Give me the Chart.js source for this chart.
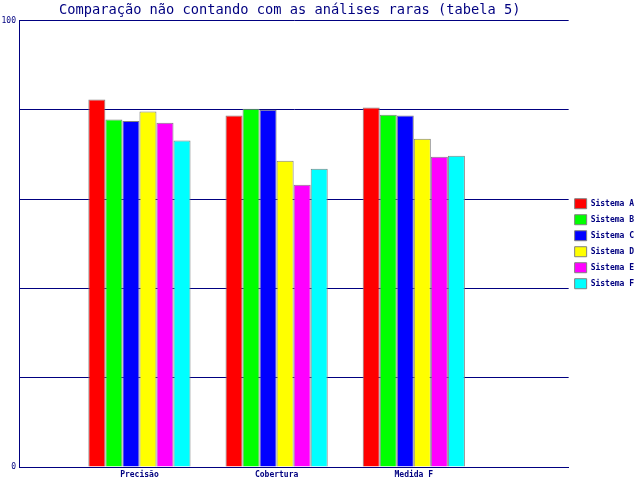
<!DOCTYPE html>
<html lang="pt">
<head>
    <meta charset="UTF-8">
    <title>Comparação não contando com as análises raras (tabela 5)</title>
    <script src="https://cdn.jsdelivr.net/npm/chart.js"></script>
    <style>
        body { margin: 0; padding: 0; background: #fff; }
        canvas { display: block; }
    </style>
</head>
<body>
    <canvas id="chart" width="640" height="480"></canvas>

    <script>
        // dados
        const categories = ["Precisão", "Cobertura", "Medida F"];
        const systems = ["Sistema A", "Sistema B", "Sistema C", "Sistema D", "Sistema E", "Sistema F"];
        const sistemaA = [82.3, 78.7, 80.5];
        const sistemaB = [77.8, 80.2, 78.9];
        const sistemaC = [77.5, 80.0, 78.7];
        const sistemaD = [79.6, 68.6, 73.5];
        const sistemaE = [77.1, 63.2, 69.5];
        const sistemaF = [73.1, 66.8, 69.7];
        const yTicks = [0, 100];

        const series = [sistemaA, sistemaB, sistemaC, sistemaD, sistemaE, sistemaF];
        const colors = ["#ff0000", "#00ff00", "#0000ff", "#ffff00", "#ff00ff", "#00ffff"];
        const navy = "#000080";
        const smallFont = { family: "'DejaVu Sans Mono', monospace", size: 8, weight: "bold" };

        const whiteBg = {
            id: "whiteBg",
            beforeDraw(chart) {
                const ctx = chart.ctx;
                ctx.save();
                ctx.fillStyle = "#fff";
                ctx.fillRect(0, 0, chart.width, chart.height);
                ctx.restore();
            }
        };

        new Chart(document.getElementById("chart"), {
            type: "bar",
            data: {
                datasets: systems.map((name, i) => ({
                    label: name,
                    data: series[i].map((v, j) => ({ x: j + 1, y: v })),
                    backgroundColor: colors[i],
                    borderColor: "#808080",
                    borderWidth: 1,
                    categoryPercentage: 0.745,
                    barPercentage: 1
                }))
            },
            options: {
                responsive: false,
                animation: false,
                layout: { padding: { right: -4 } },
                plugins: {
                    title: {
                        display: true,
                        // trailing space nudges the centred title a little to the left
                        text: "Comparação não contando com as análises raras (tabela 5) ",
                        color: navy,
                        fullSize: false,
                        font: { family: "'DejaVu Sans Mono', monospace", size: 13.7, weight: "normal" },
                        padding: { top: 2, bottom: 2 }
                    },
                    legend: {
                        position: "right",
                        fullSize: false,
                        labels: {
                            boxWidth: 12,
                            boxHeight: 10,
                            padding: 6,
                            color: navy,
                            font: smallFont
                        }
                    },
                    tooltip: { enabled: false }
                },
                scales: {
                    x: {
                        type: "linear",
                        offset: false,
                        min: 0.122,
                        max: 4.129,
                        afterBuildTicks: (scale) => {
                            scale.ticks = categories.map((c, i) => ({ value: i + 1 }));
                        },
                        ticks: {
                            color: navy,
                            font: smallFont,
                            padding: 3,
                            maxRotation: 0,
                            callback: (v) => categories[v - 1]
                        },
                        grid: { display: false, drawTicks: false, offset: false },
                        border: { color: navy, width: 1 },
                        afterFit: (scale) => { scale.height = 13; }
                    },
                    y: {
                        min: 0,
                        max: 100,
                        ticks: {
                            stepSize: 20,
                            color: navy,
                            font: { family: "'DejaVu Sans Mono', monospace", size: 8 },
                            padding: 3,
                            callback: (v) => yTicks.includes(v) ? v : ""
                        },
                        grid: { color: navy, lineWidth: 1, drawTicks: false },
                        border: { color: navy, width: 1 },
                        afterFit: (scale) => { scale.width = 19; }
                    }
                }
            },
            plugins: [whiteBg]
        });
    </script>
</body>
</html>
